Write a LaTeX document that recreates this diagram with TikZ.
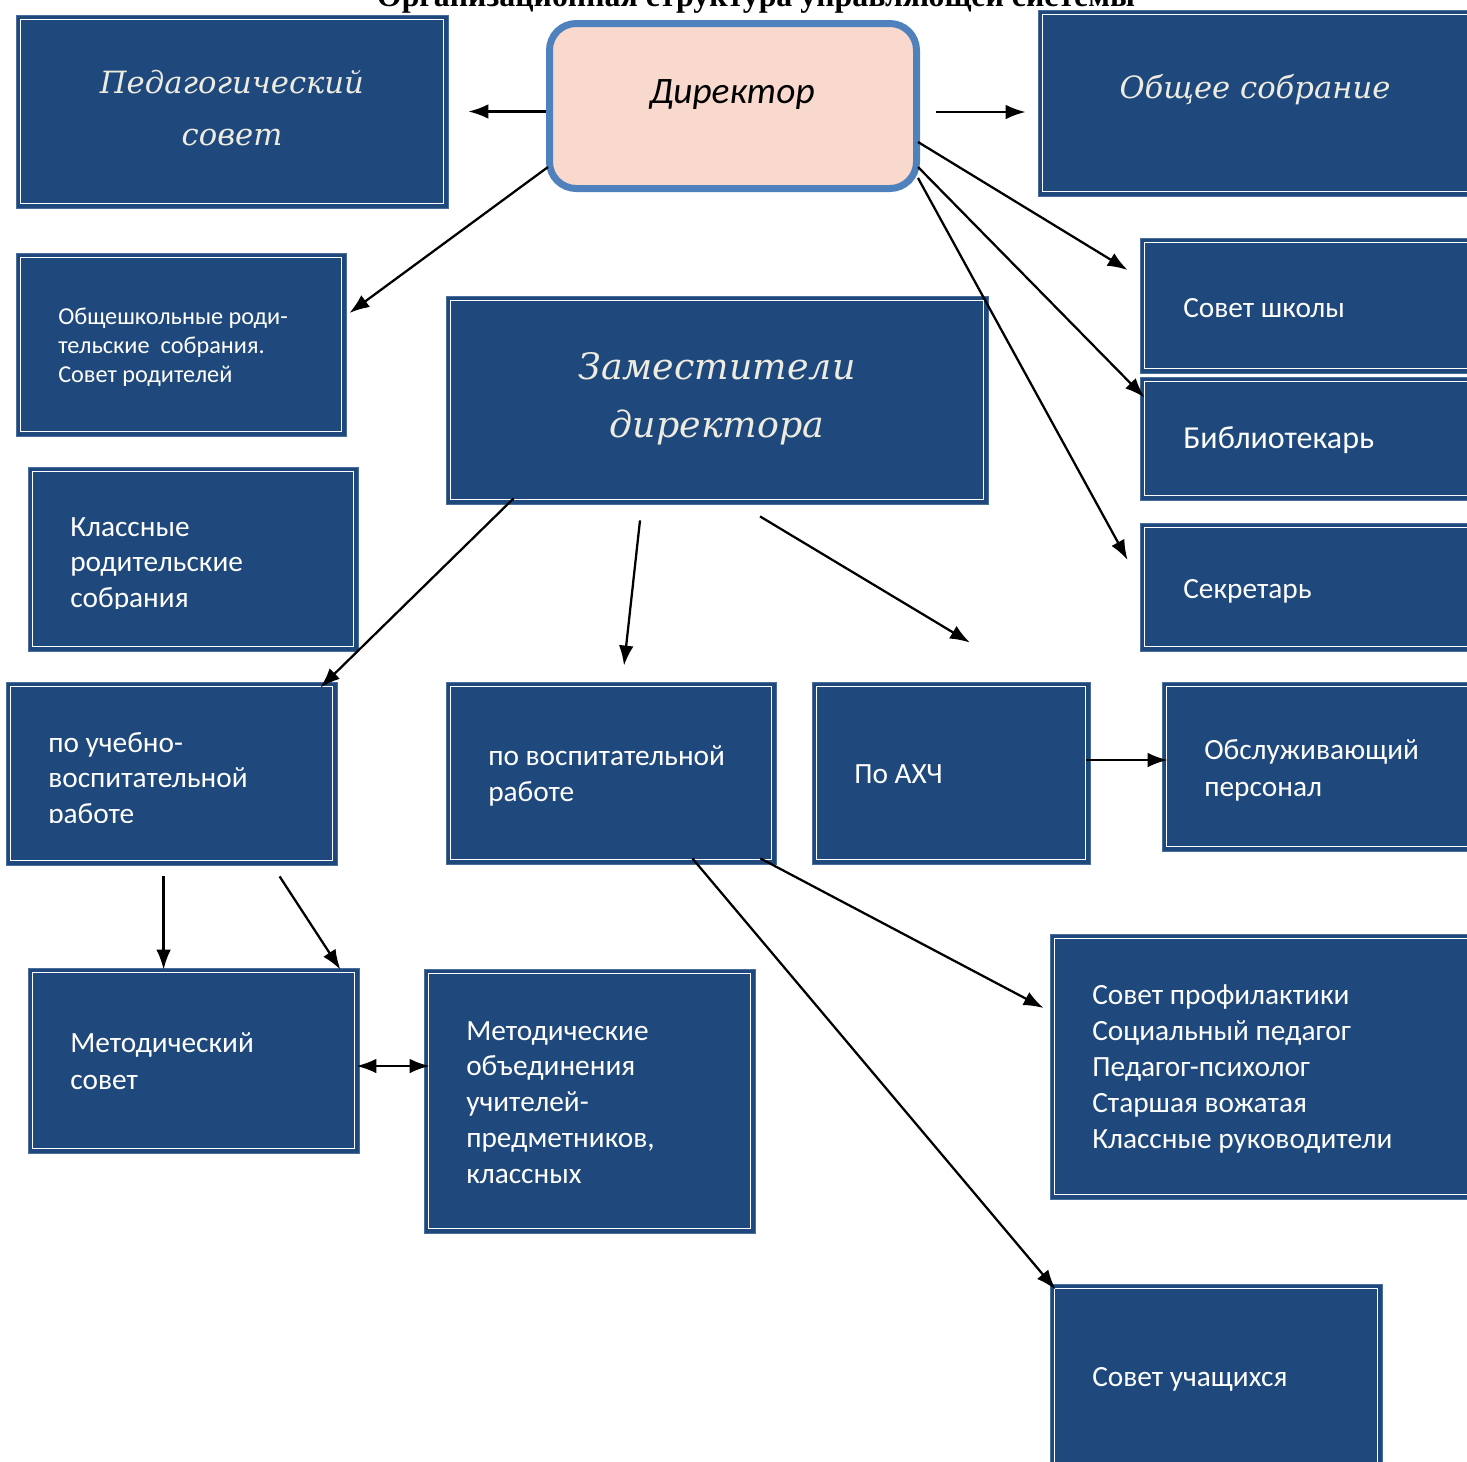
\documentclass[tikz,border=0pt]{standalone}
\usepackage{fontspec}
\setmainfont{Carlito}
\newfontfamily\hdrfont{DejaVu Serif}
\newfontfamily\ttlfont{Liberation Serif}
\usetikzlibrary{arrows.meta,fit}
\definecolor{boxblue}{HTML}{1F497D}
\definecolor{boxrim}{HTML}{4A6E9C}
\definecolor{cream}{HTML}{EEECE1}
\definecolor{dirfill}{HTML}{F9D9CE}
\definecolor{dirline}{HTML}{4F81BD}
\newcommand{\mkbox}[5]{%
  \node[bbox, fit={(#2,#3)(#4,#5)}] (#1) {};
  \draw[inl] ([shift={(5,5)}]#1.north west) rectangle ([shift={(-5,-5)}]#1.south east);}
\begin{document}
\begin{tikzpicture}[x=0.75pt,y=-0.75pt,
  bbox/.style={rectangle, fill=boxblue, draw=boxrim, line width=0.6pt, inner sep=0pt},
  inl/.style={draw=white, line width=1.1pt},
  txt/.style={text=white, inner sep=0pt, align=left, anchor=base west},
  hdr/.style={text=cream, inner sep=0pt, align=center, anchor=base, font=\hdrfont\itshape},
  arr/.style={-{Latex[length=15pt,width=11pt]}, line width=1.7pt},
  arrb/.style={{Latex[length=15pt,width=11pt]}-{Latex[length=15pt,width=11pt]}, line width=1.7pt}]
\useasboundingbox (0,0) rectangle (1467,1461);

% title (cut by the page top, as in the reference)
\node[anchor=base, inner sep=0pt, font=\ttlfont\bfseries\fontsize{23.9}{28}\selectfont] (title) at (756,6) {Организационная структура управляющей системы};

% boxes
\mkbox{ped}{16}{15}{448}{208}
\mkbox{obs}{1038}{10}{1480}{196}
\mkbox{osh}{16}{253}{346}{436}
\mkbox{zam}{446}{296}{988}{504}
\mkbox{ss}{1140}{238}{1480}{373}
\mkbox{bib}{1140}{377}{1480}{500}
\mkbox{sec}{1140}{523}{1480}{651}
\mkbox{kl}{28}{467}{358}{651}
\mkbox{uvr}{6}{682}{337}{865}
\mkbox{vr}{446}{682}{776}{864}
\mkbox{axch}{812}{682}{1090}{864}
\mkbox{obsl}{1162}{682}{1480}{851}
\mkbox{ms}{28}{968}{359}{1153}
\mkbox{mo}{424}{969}{755}{1233}
\mkbox{sp}{1050}{934}{1480}{1199}
\mkbox{su}{1050}{1284}{1382}{1480}

% director
\node[draw=dirline, fill=dirfill, line width=5.25pt, rounded corners=20pt, inner sep=0pt,
      fit={(549.5,23.5)(916.5,188.5)}] (dir) {};
\node[anchor=base, inner sep=0pt, font=\itshape\fontsize{28}{34}\selectfont] (dirt) at (732,103) {Директор};

% headers (anchor base = baseline of the last line)
\node[hdr, font=\hdrfont\itshape\fontsize{23}{39}\selectfont] (pedt) at (232,145) {Педагогический\\совет};
\node[hdr, font=\hdrfont\itshape\fontsize{23}{39}\selectfont] (obst) at (1255,98) {Общее собрание};
\node[hdr, font=\hdrfont\itshape\fontsize{27.3}{43.5}\selectfont] (zamt) at (717,437) {Заместители\\директора};

% texts (anchor base west = baseline of the last line)
\node[txt, font=\fontsize{18.2}{21.75}\selectfont] (osht) at (58,382) {Общешкольные роди-\\тельские\ \ собрания.\\Совет родителей};
\node[txt, font=\fontsize{22}{26}\selectfont] (sst) at (1183,317) {Совет школы};
\node[txt, font=\fontsize{24}{28}\selectfont] (bibt) at (1183,448) {Библиотекарь};
\node[txt, font=\fontsize{22}{26}\selectfont] (sect) at (1183,598) {Секретарь};
\begin{scope}
  \clip (28,467) rectangle (358,608);
  \node[txt, font=\fontsize{22}{26.4}\selectfont] (klt) at (70,607) {Классные\\родительские\\собрания};
\end{scope}
\begin{scope}
  \clip (6,682) rectangle (337,822);
  \node[txt, font=\fontsize{22}{26.4}\selectfont] (uvrt) at (48,823) {по учебно-\\воспитательной\\работе};
\end{scope}
\node[txt, font=\fontsize{22}{27}\selectfont] (vrt) at (488,801) {по воспитательной\\работе};
\node[txt, font=\fontsize{22}{26}\selectfont] (axcht) at (854,783) {По АХЧ};
\node[txt, font=\fontsize{22}{27.75}\selectfont] (obslt) at (1204,796) {Обслуживающий\\персонал};
\node[txt, font=\fontsize{22}{27.75}\selectfont] (mst) at (70,1089) {Методический\\совет};
\node[txt, font=\fontsize{22}{26.8}\selectfont] (mot) at (466,1183) {Методические\\объединения\\учителей-\\предметников,\\классных};
\node[txt, font=\fontsize{22}{27}\selectfont] (spt) at (1092,1148) {Совет профилактики\\Социальный педагог\\Педагог-психолог\\Старшая вожатая\\Классные руководители};
\node[txt, font=\fontsize{22}{26}\selectfont] (sut) at (1092,1386) {Совет учащихся};

% connectors
\draw[arr, shorten >=15pt] (dir.west |- ped.east) -- (ped.east);
\draw[arr] ([shift={(16,6)}]dir.east) -- ([shift={(-12,9)}]obs.west);
\draw[arr] ([shift={(2,61)}]dir.west) -- ([shift={(3,-31.5)}]osh.east);
\draw[arr] ([shift={(-2,36)}]dir.east) -- ([shift={(-12,-35.5)}]ss.west);
\draw[arr] ([shift={(-2,61)}]dir.east) -- ([shift={(5,21)}]bib.north west);
\draw[arr] ([shift={(-2,72)}]dir.east) -- ([shift={(-12,-27)}]sec.west);
\draw[arr] ([shift={(68,-6)}]zam.south west) -- ([shift={(-17,6)}]uvr.north east);
\draw[arr] ([shift={(-77,16)}]zam.south) -- ([shift={(13,-16)}]vr.north);
\draw[arr] ([shift={(43,12)}]zam.south) -- ([shift={(19,-39)}]axch.north);
\draw[arr] ([shift={(-4,-13)}]axch.east) -- ([shift={(6,-6.5)}]obsl.west);
\draw[arr] ([shift={(158,11)}]uvr.south west) -- ([shift={(136,2)}]ms.north west);
\draw[arr] ([shift={(274,11)}]uvr.south west) -- ([shift={(-19,2)}]ms.north east);
\draw[arrb] ([shift={(-3,5.5)}]ms.east) -- ([shift={(6,-35)}]mo.west);
\draw[arr] ([shift={(-16,-6)}]vr.south east) -- ([shift={(-6,-58.5)}]sp.west);
\draw[arr] ([shift={(-84,-6)}]vr.south east) -- ([shift={(6,6)}]su.north west);
\end{tikzpicture}
\end{document}
